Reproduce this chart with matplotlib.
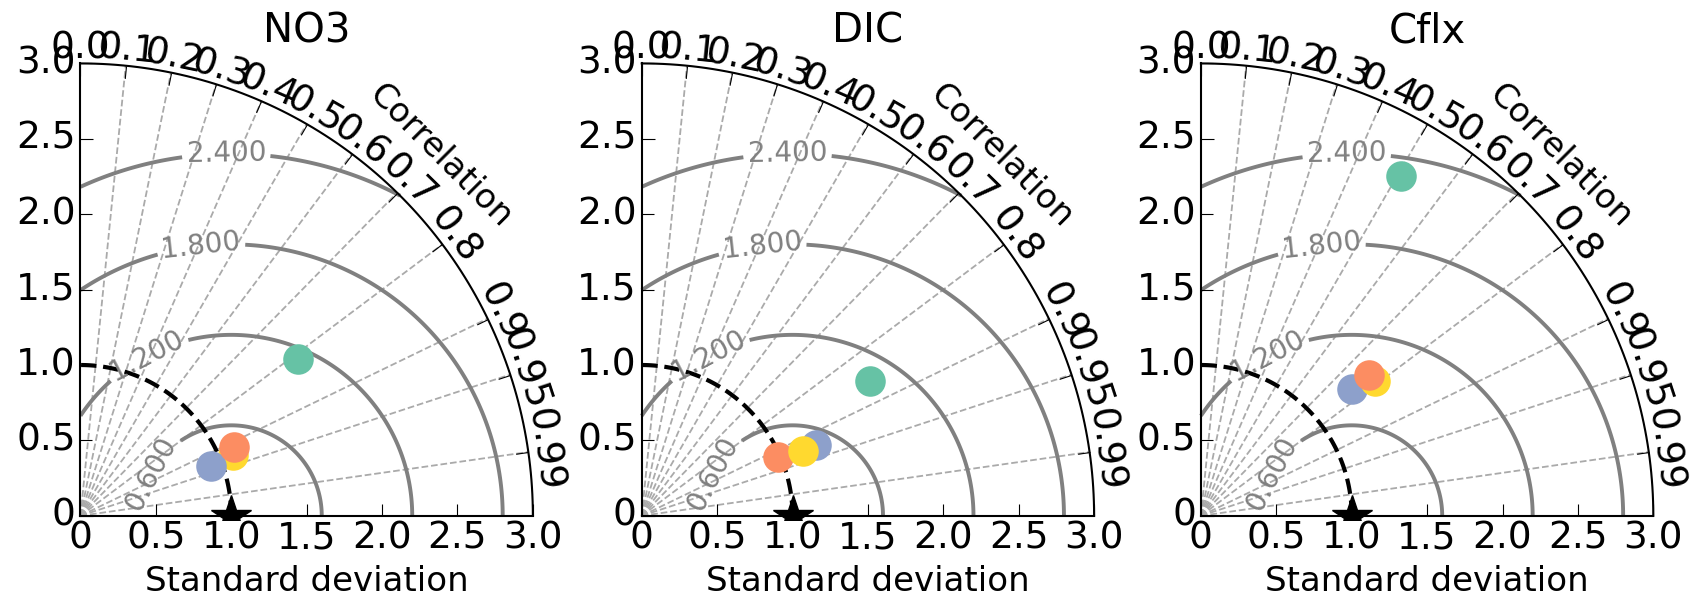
import numpy as np
import matplotlib
matplotlib.use("Agg")
import matplotlib.pyplot as plt
from matplotlib.projections import PolarAxes
import mpl_toolkits.axisartist.floating_axes as FA
import mpl_toolkits.axisartist.grid_finder as GF

titles = ["NO3", "DIC", "Cflx"]
model_colors = ["#66c2a5", "#fc8d62", "#8da0cb", "#ffd92f"]
ref_std = 1.0

# normalised std and correlation, one value per model (same order as colours)
no3_std = [1.776, 1.117, 0.927, 1.092]
no3_corr = [0.811, 0.912, 0.934, 0.929]
dic_std = [1.758, 0.983, 1.245, 1.152]
dic_corr = [0.861, 0.917, 0.926, 0.928]
cflx_std = [2.616, 1.455, 1.310, 1.458]
cflx_corr = [0.507, 0.767, 0.767, 0.791]

panel_std = [no3_std, dic_std, cflx_std]
panel_corr = [no3_corr, dic_corr, cflx_corr]
draw_order = [[0, 3, 2, 1], [0, 1, 2, 3], [0, 2, 3, 1]]

corr_ticks = [0.0, 0.1, 0.2, 0.3, 0.4, 0.5, 0.6, 0.7, 0.8, 0.9, 0.95, 0.99]
corr_labels = ["0.0", "0.1", "0.2", "0.3", "0.4", "0.5", "0.6", "0.7", "0.8", "0.9", "0.95", "0.99"]
std_ticks = [0.0, 0.5, 1.0, 1.5, 2.0, 2.5, 3.0]
std_labels = ["0", "0.5", "1.0", "1.5", "2.0", "2.5", "3.0"]
smax = 3.0
rms_levels = [0.6, 1.2, 1.8, 2.4]
# where the contour labels sit (theta, r)
rms_label_pos = [(0.541, 0.545), (1.171, 1.144), (1.160, 1.992), (1.190, 2.60)]

fig = plt.figure(figsize=(17.08, 6.03), dpi=100)
lefts = [0.0428, 0.3714, 0.6988]

tr = PolarAxes.PolarTransform(apply_theta_transforms=False)
tlocs = np.arccos(corr_ticks)

for i in range(3):
    gl1 = GF.FixedLocator(tlocs)
    tf1 = GF.DictFormatter(dict(zip(tlocs, corr_labels)))
    gl2 = GF.FixedLocator(std_ticks)
    tf2 = GF.DictFormatter(dict(zip(std_ticks, std_labels)))
    ghelper = FA.GridHelperCurveLinear(tr, extremes=(0, np.pi / 2, 0, smax),
                                       grid_locator1=gl1, tick_formatter1=tf1,
                                       grid_locator2=gl2, tick_formatter2=tf2)
    ax = fig.add_axes([lefts[i], 0.1371, 0.2735, 0.7652],
                      axes_class=FA.FloatingAxes, grid_helper=ghelper)

    ax.axis["top"].set_axis_direction("bottom")
    ax.axis["top"].toggle(ticklabels=True, label=True)
    ax.axis["top"].major_ticklabels.set_axis_direction("top")
    ax.axis["top"].label.set_axis_direction("top")
    ax.axis["top"].label.set_text("Correlation")
    ax.axis["left"].set_axis_direction("bottom")
    ax.axis["left"].label.set_text("Standard deviation")
    ax.axis["right"].set_axis_direction("top")
    ax.axis["right"].toggle(ticklabels=True)
    ax.axis["right"].major_ticklabels.set_axis_direction("left")
    ax.axis["bottom"].set_visible(False)

    for side in ["top", "left", "right"]:
        ax.axis[side].major_ticklabels.set_fontsize(27)
        ax.axis[side].label.set_fontsize(24.5)
        ax.axis[side].major_ticks.set_ticksize(9)
        ax.axis[side].major_ticks.set_linewidth(1.5)
        ax.axis[side].line.set_linewidth(1.5)
    ax.axis["left"].label.set_pad(12)

    ax.grid(True, axis="x", linestyle="--", color="#aaaaaa", linewidth=1.3)
    ax.set_title(titles[i], fontsize=29, pad=12)

    aux = ax.get_aux_axes(tr)

    # centred RMS contours
    rs, ts = np.meshgrid(np.linspace(0, smax, 300), np.linspace(0, np.pi / 2, 300))
    rms = np.sqrt(ref_std ** 2 + rs ** 2 - 2 * ref_std * rs * np.cos(ts))
    cs = aux.contour(ts, rs, rms, rms_levels, colors="0.5", linewidths=2.8)
    aux.clabel(cs, inline=True, fontsize=20, fmt="%.3f", manual=rms_label_pos)

    # reference arc and point
    t = np.linspace(0, np.pi / 2, 100)
    aux.plot(t, np.full_like(t, ref_std), "k--", lw=3)
    star, = aux.plot([0], [ref_std], "k*", ms=30)
    star.set_clip_path(None)
    star.set_clip_box(ax.bbox)

    for j in draw_order[i]:
        aux.plot(np.arccos(panel_corr[i][j]), panel_std[i][j], "o",
                 color=model_colors[j], ms=22, mec="none")

fig.savefig("out.png", dpi=100)
